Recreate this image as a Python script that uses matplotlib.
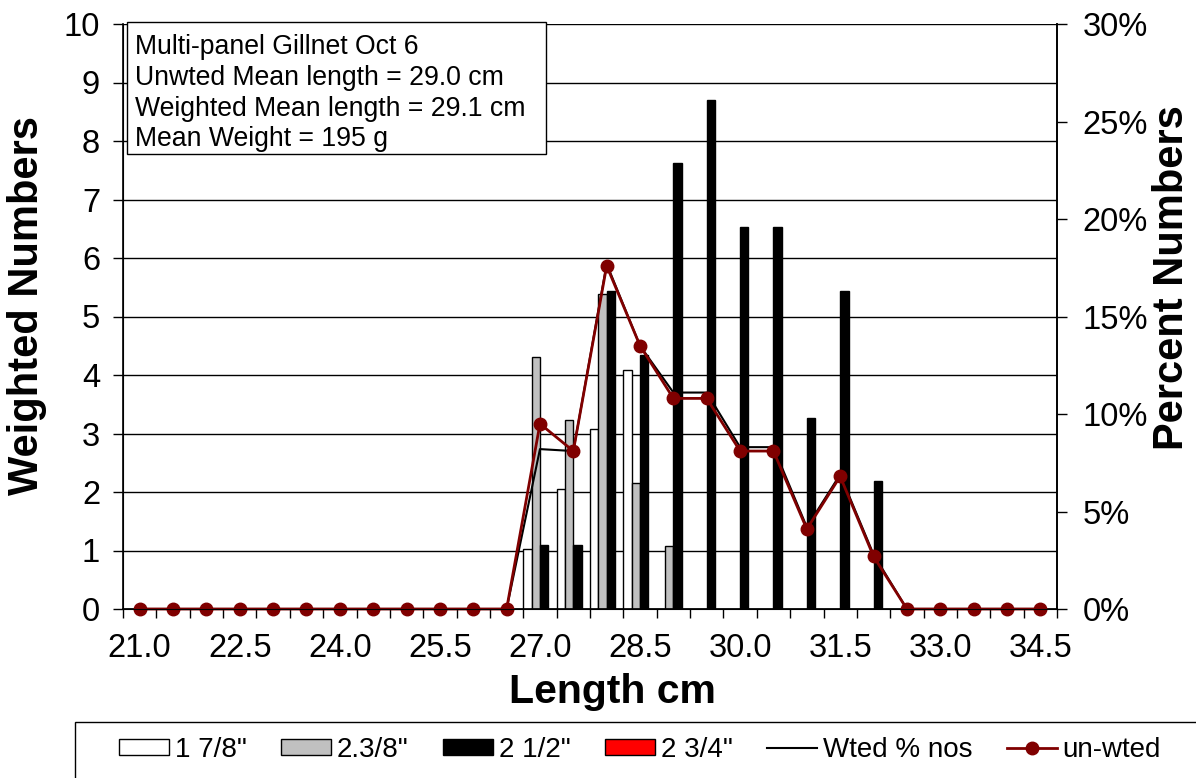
import numpy as np
import matplotlib.pyplot as plt
from matplotlib.patches import Rectangle
from matplotlib.ticker import PercentFormatter

plt.rcParams['font.family'] = ['Liberation Sans', 'DejaVu Sans']

# length classes (cm)
lengths = [21.0, 21.5, 22.0, 22.5, 23.0, 23.5, 24.0, 24.5, 25.0, 25.5, 26.0, 26.5,
           27.0, 27.5, 28.0, 28.5, 29.0, 29.5, 30.0, 30.5, 31.0, 31.5, 32.0, 32.5,
           33.0, 33.5, 34.0, 34.5]

# weighted numbers per mesh size
mesh_1_7_8 = [0, 0, 0, 0, 0, 0, 0, 0, 0, 0, 0, 0,
              1.02, 2.05, 3.07, 4.09, 0, 0, 0, 0, 0, 0, 0, 0,
              0, 0, 0, 0]
mesh_2_3_8 = [0, 0, 0, 0, 0, 0, 0, 0, 0, 0, 0, 0,
              4.31, 3.23, 5.38, 2.15, 1.08, 0, 0, 0, 0, 0, 0, 0,
              0, 0, 0, 0]
mesh_2_1_2 = [0, 0, 0, 0, 0, 0, 0, 0, 0, 0, 0, 0,
              1.09, 1.09, 5.44, 4.35, 7.62, 8.70, 6.53, 6.53, 3.26, 5.44, 2.18, 0,
              0, 0, 0, 0]
mesh_2_3_4 = [0, 0, 0, 0, 0, 0, 0, 0, 0, 0, 0, 0,
              0, 0, 0, 0, 0, 0, 0, 0, 0, 0, 0, 0,
              0, 0, 0, 0]

# percent numbers
wted_pct = [0, 0, 0, 0, 0, 0, 0, 0, 0, 0, 0, 0,
            8.2, 8.1, 17.7, 13.5, 11.1, 11.1, 8.3, 8.3, 4.2, 6.9, 2.8, 0,
            0, 0, 0, 0]
unwted_pct = [0, 0, 0, 0, 0, 0, 0, 0, 0, 0, 0, 0,
              9.5, 8.1, 17.6, 13.5, 10.8, 10.8, 8.1, 8.1, 4.1, 6.8, 2.7, 0,
              0, 0, 0, 0]

box_lines = ["Multi-panel Gillnet Oct 6",
             "Unwted Mean length = 29.0 cm",
             "Weighted Mean length = 29.1 cm",
             "Mean Weight = 195 g"]

W, H = 1196, 778
fig = plt.figure(figsize=(W / 100, H / 100), dpi=100)
ax = fig.add_axes([123 / W, 1 - 609 / H, (1057 - 123) / W, (609 - 24) / H])

x = np.arange(len(lengths))
bw = 0.25
b1 = ax.bar(x - 1.5 * bw, mesh_1_7_8, bw, color='white', edgecolor='black', lw=1, label='1 7/8"')
b2 = ax.bar(x - 0.5 * bw, mesh_2_3_8, bw, color='#c0c0c0', edgecolor='black', lw=1, label='2.3/8"')
b3 = ax.bar(x + 0.5 * bw, mesh_2_1_2, bw, color='black', edgecolor='black', lw=1, label='2 1/2"')
b4 = ax.bar(x + 1.5 * bw, mesh_2_3_4, bw, color='red', edgecolor='black', lw=1, label='2 3/4"')

ax.set_xlim(-0.5, len(lengths) - 0.5)
ax.set_ylim(0, 10)
ax.set_yticks(range(0, 11))
ax.yaxis.grid(True, color='black', lw=1)
ax.set_axisbelow(True)
ax.spines['top'].set_visible(False)
for s in ['left', 'right', 'bottom']:
    ax.spines[s].set_linewidth(1.2)

ax.set_xticks(x[::3])
ax.set_xticklabels([f"{v:.1f}" for v in lengths[::3]])
ax.set_xticks(np.arange(-0.5, len(lengths)), minor=True)
ax.tick_params(axis='x', which='major', length=0, pad=17, labelsize=23.5)
ax.tick_params(axis='x', which='minor', length=6.5, width=1)
ax.tick_params(axis='y', length=7, width=1, pad=9.5, labelsize=23.5)

ax2 = ax.twinx()
l1, = ax2.plot(x, wted_pct, color='black', lw=1.5, label='Wted % nos')
l2, = ax2.plot(x, unwted_pct, color='#800000', lw=2, marker='o', ms=9,
               label='un-wted', clip_on=False)
ax2.set_ylim(0, 30)
ax2.set_yticks(range(0, 31, 5))
ax2.yaxis.set_major_formatter(PercentFormatter(decimals=0))
ax2.tick_params(axis='y', length=7, width=1, pad=11.5, labelsize=23.5)
ax2.spines['top'].set_visible(False)
ax2.spines['right'].set_linewidth(1.2)

# axis titles
fig.text(27 / W, 1 - 305 / H, 'Weighted Numbers', rotation=90, ha='center', va='center',
         fontsize=30, fontweight='bold')
fig.text(1172 / W, 1 - 278 / H, 'Percent Numbers', rotation=90, ha='center', va='center',
         fontsize=30, fontweight='bold')
fig.text(612 / W, 1 - 692 / H, 'Length cm', ha='center', va='center',
         fontsize=29.5, fontweight='bold')

# info box
fig.add_artist(Rectangle((127 / W, 1 - 154 / H), (546 - 127) / W, (154 - 22) / H,
                         transform=fig.transFigure, facecolor='white', edgecolor='black',
                         lw=1, zorder=5))
fig.text(135 / W, 1 - 34 / H, "\n".join(box_lines), ha='left', va='top',
         fontsize=19.2, linespacing=1.24, zorder=6)

# legend
fig.add_artist(Rectangle((75 / W, -0.02), 1.0, (778 - 722) / H + 0.02,
                         transform=fig.transFigure, facecolor='white', edgecolor='black',
                         lw=1, zorder=5))
leg = fig.legend(handles=[b1, b2, b3, b4, l1, l2], loc='center',
                 bbox_to_anchor=(640 / W, 1 - 750 / H), ncol=6, frameon=False,
                 fontsize=20, handlelength=1.8, handleheight=0.5, handletextpad=0.2,
                 columnspacing=1.25)
leg.set_zorder(6)

fig.savefig('out.png', dpi=100)
